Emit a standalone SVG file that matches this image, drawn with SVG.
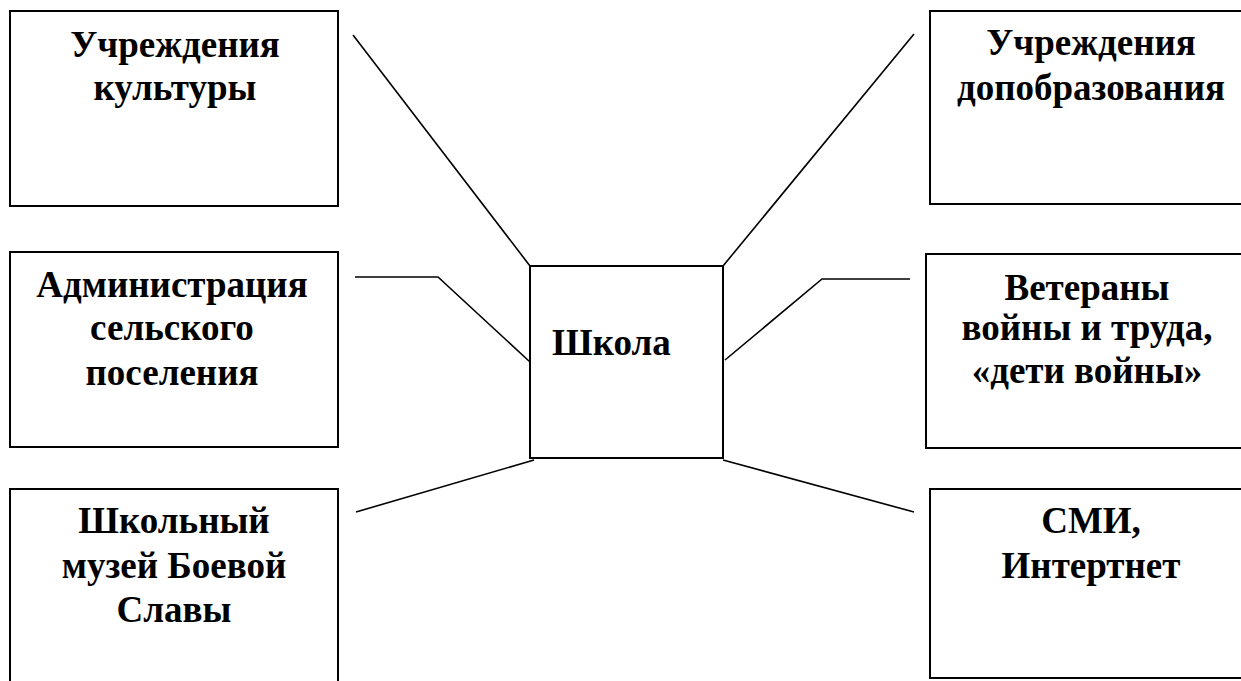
<svg xmlns="http://www.w3.org/2000/svg" width="1241" height="681" viewBox="0 0 1241 681">
<style>
.box{fill:#fff;stroke:#000;stroke-width:2}
.con{fill:none;stroke:#000;stroke-width:1.6}
</style>
<rect width="1241" height="681" fill="#fff"/>
<g id="connectors">
<line class="con" x1="353" y1="35" x2="530" y2="266"/>
<line class="con" x1="914" y1="34" x2="723" y2="266"/>
<polyline class="con" points="355,277 438,277 530,362"/>
<polyline class="con" points="910,279 822,279 725,360"/>
<line class="con" x1="356" y1="512" x2="534" y2="460"/>
<line class="con" x1="723" y1="460" x2="914" y2="512"/>
</g>
<g font-family="Liberation Serif, serif" font-weight="bold" font-size="37" text-anchor="middle" fill="#000">
<g id="n-culture">
<rect class="box" x="10" y="11" width="328" height="195"/>
<text x="175" y="57">Учреждения</text>
<text x="175" y="100">культуры</text>
</g>
<g id="n-dopobr">
<rect class="box" x="930" y="11" width="330" height="193"/>
<text x="1091" y="55">Учреждения</text>
<text x="1091" y="100">допобразования</text>
</g>
<g id="n-admin">
<rect class="box" x="10" y="252" width="328" height="195"/>
<text x="172" y="297">Администрация</text>
<text x="172" y="340">сельского</text>
<text x="172" y="385">поселения</text>
</g>
<g id="n-veterans">
<rect class="box" x="926" y="254" width="334" height="194"/>
<text x="1087" y="300">Ветераны</text>
<text x="1087" y="340">войны и труда,</text>
<text x="1087" y="383">«дети войны»</text>
</g>
<g id="n-school">
<rect class="box" x="530" y="266" width="193" height="192"/>
<text x="552" y="355" text-anchor="start">Школа</text>
</g>
<g id="n-museum">
<rect class="box" x="10" y="489" width="328" height="210"/>
<text x="174" y="533">Школьный</text>
<text x="174" y="578">музей Боевой</text>
<text x="174" y="622">Славы</text>
</g>
<g id="n-media">
<rect class="box" x="930" y="489" width="330" height="189"/>
<text x="1091" y="533">СМИ,</text>
<text x="1091" y="578">Интертнет</text>
</g>
</g>
</svg>
